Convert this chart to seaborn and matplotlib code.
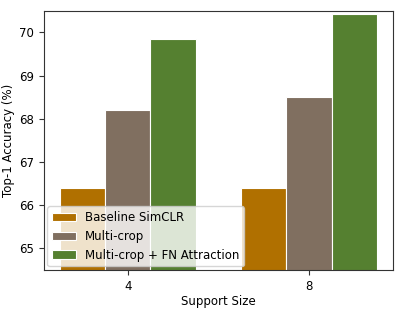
import pandas as pd
import matplotlib
matplotlib.use("Agg")
import matplotlib.pyplot as plt
import seaborn as sns

# ── data ───────────────────────────────────────────────────────────────────────
support_sizes = ["4", "8"]
methods = ["Baseline SimCLR", "Multi-crop", "Multi-crop + FN Attraction"]
baseline_acc = [66.4, 66.4]
multicrop_acc = [68.2, 68.5]
fn_attract_acc = [69.85, 70.42]

COLOURS = ["#B07000", "#806F60", "#558030"]

rows = []
for m, vals in zip(methods, [baseline_acc, multicrop_acc, fn_attract_acc]):
    for s, v in zip(support_sizes, vals):
        rows.append({"Support Size": s, "Method": m, "Accuracy": v})
df = pd.DataFrame(rows)

# ── plot ───────────────────────────────────────────────────────────────────────
sns.set_style("ticks")
plt.rcParams["font.family"] = ["DejaVu Sans"]
plt.rcParams.update({"text.color": "black", "axes.labelcolor": "black",
                     "xtick.color": "black", "ytick.color": "black"})

fig, ax = plt.subplots(figsize=(4.03, 3.11), dpi=100)
sns.barplot(data=df, x="Support Size", y="Accuracy", hue="Method",
            order=support_sizes, hue_order=methods, palette=COLOURS,
            width=0.75, edgecolor="white", linewidth=0.8,
            saturation=1, ax=ax)

ax.set_xlim(-0.4625, 1.4625)
ax.set_ylim(64.5, 70.5)
ax.set_yticks([65, 66, 67, 68, 69, 70])
ax.set_xlabel("Support Size", fontsize=8.5, labelpad=1.5)
ax.set_ylabel("Top-1 Accuracy (%)", fontsize=8.5, labelpad=3)
ax.tick_params(labelsize=8.5, color="#333333")
for sp in ax.spines.values():
    sp.set_color("#333333")

ax.legend(loc="lower left", fontsize=8.5, framealpha=0.8, borderaxespad=0.3)

fig.subplots_adjust(left=0.109, right=0.975, top=0.965, bottom=0.132)
fig.savefig("out.png", dpi=100)
